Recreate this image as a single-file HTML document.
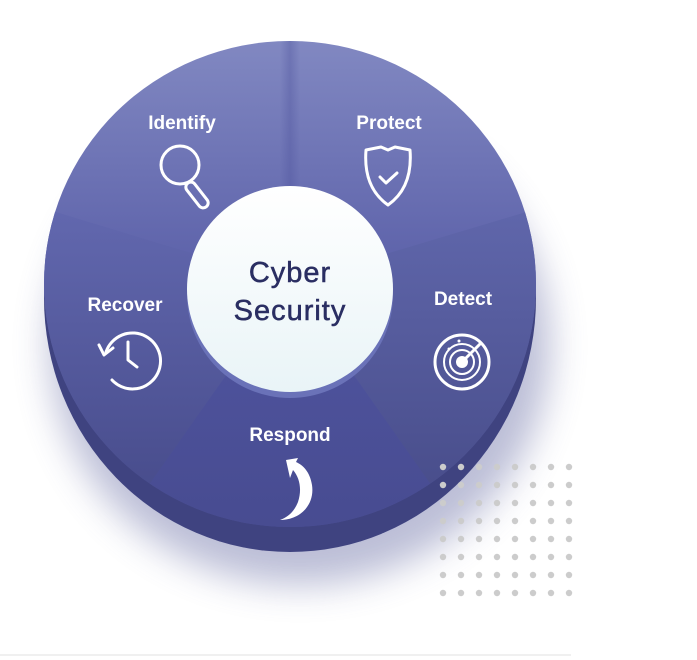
<!DOCTYPE html>
<html><head><meta charset="utf-8"><style>
html,body{margin:0;padding:0;background:#fff;}
svg{display:block;}
text{font-family:"Liberation Sans",Arial,sans-serif;}
</style></head><body>
<svg width="697" height="660" viewBox="0 0 697 660" xmlns="http://www.w3.org/2000/svg">
<defs>
<radialGradient id="sh" cx="50%" cy="50%" r="50%">
<stop offset="0.75" stop-color="#5a5f9a" stop-opacity="0.4"/>
<stop offset="1" stop-color="#5a5f9a" stop-opacity="0"/>
</radialGradient>
<linearGradient id="top" x1="0" y1="0" x2="0" y2="1">
<stop offset="0" stop-color="#8289c2"/>
<stop offset="0.5" stop-color="#5a5fa8"/>
<stop offset="1" stop-color="#4a4e94"/>
</linearGradient>
<linearGradient id="left" x1="0" y1="0" x2="0" y2="1">
<stop offset="0" stop-color="#6369b0"/>
<stop offset="1" stop-color="#3e427f"/>
</linearGradient>
<linearGradient id="right" x1="0" y1="0" x2="0" y2="1">
<stop offset="0" stop-color="#6168ad"/>
<stop offset="1" stop-color="#40447f"/>
</linearGradient>
<linearGradient id="bot" x1="0" y1="0" x2="0" y2="1">
<stop offset="0" stop-color="#5055a0"/>
<stop offset="1" stop-color="#474b90"/>
</linearGradient>
<linearGradient id="inner" x1="0" y1="0" x2="0" y2="1">
<stop offset="0" stop-color="#ffffff"/>
<stop offset="1" stop-color="#e9f4f7"/>
</linearGradient>
<linearGradient id="vline" x1="0" y1="0" x2="1" y2="0">
<stop offset="0" stop-color="#4d529c" stop-opacity="0"/>
<stop offset="0.5" stop-color="#4d529c" stop-opacity="0.35"/>
<stop offset="1" stop-color="#4d529c" stop-opacity="0"/>
</linearGradient>
<filter id="blur" x="-20%" y="-20%" width="140%" height="140%"><feGaussianBlur stdDeviation="18"/></filter>
<clipPath id="face"><ellipse cx="290" cy="284" rx="246" ry="243"/></clipPath>
</defs>
<!-- shadow -->
<ellipse cx="300" cy="345" rx="250" ry="240" fill="#6b6fa6" opacity="0.45" filter="url(#blur)"/>
<!-- disc side -->
<ellipse cx="290" cy="298" rx="246" ry="254" fill="#3f4380"/>
<!-- face segments -->
<g clip-path="url(#face)">
<rect x="40" y="36" width="500" height="500" fill="url(#top)"/>
<rect x="280" y="40" width="20" height="150" fill="url(#vline)"/>
<polygon points="290,290 191,253 0,195 0,600 100,600 222,381" fill="url(#left)"/>
<polygon points="290,290 389,253 600,190 600,600 480,600 358,381" fill="url(#right)"/>
<polygon points="290,290 222,381 110,540 470,540 358,381" fill="url(#bot)"/>
</g>
<!-- inner circle -->
<circle cx="290" cy="295" r="103" fill="#6a72b8"/>
<circle cx="290" cy="289" r="103" fill="url(#inner)"/>
<text x="290" y="282" font-size="29" fill="#2a2e62" stroke="#2a2e62" stroke-width="0.5" text-anchor="middle" letter-spacing="1">Cyber</text>
<text x="290" y="320" font-size="29" fill="#2a2e62" stroke="#2a2e62" stroke-width="0.5" text-anchor="middle" letter-spacing="1">Security</text>
<!-- labels -->
<g font-weight="bold" font-size="19" fill="#fff" text-anchor="middle">
<text x="182" y="129">Identify</text>
<text x="389" y="129">Protect</text>
<text x="463" y="305">Detect</text>
<text x="125" y="311">Recover</text>
<text x="290" y="441">Respond</text>
</g>
<!-- icons -->
<g fill="none" stroke="#fff" stroke-width="3" stroke-linecap="round" stroke-linejoin="round">
<circle cx="180" cy="165" r="19"/>
<rect x="192" y="180" width="10" height="30" rx="5" transform="rotate(-38 197 195)"/>
<path d="M366 150 L381 147 L388 150 L395 147 L410 150 C412 175 405 193 388 205 C371 193 364 175 366 150 Z"/>
<path d="M380 177 L386 183 L397 173"/>
<circle cx="462" cy="362" r="27"/>
<circle cx="462" cy="362" r="18" stroke-width="2"/>
<circle cx="462" cy="362" r="12" stroke-width="2"/>
<line x1="462" y1="362" x2="481" y2="343" stroke-width="3"/>
<path d="M106 352 A28 28 0 1 1 112 380"/>
<path d="M99 345 L104 355 L113 348"/>
<path d="M128 342 L128 360 L137 367"/>
</g>
<circle cx="462" cy="362" r="6" fill="#fff"/>
<circle cx="459" cy="341" r="1.5" fill="#fff"/>
<circle cx="449" cy="349" r="1.5" fill="#fff"/>
<path d="M280 520 C300 520 315 505 312 485 C310 472 303 465 296 462 L298 458 L286 460 L290 478 L293 470 C300 478 302 490 298 502 C294 512 288 517 280 520 Z" fill="#fff"/>
<!-- dots -->
<g fill="#cccccc">
<g id="row">
<circle cx="443" cy="467" r="3.2"/><circle cx="461" cy="467" r="3.2"/><circle cx="479" cy="467" r="3.2"/><circle cx="497" cy="467" r="3.2"/><circle cx="515" cy="467" r="3.2"/><circle cx="533" cy="467" r="3.2"/><circle cx="551" cy="467" r="3.2"/><circle cx="569" cy="467" r="3.2"/>
</g>
<use href="#row" y="18"/><use href="#row" y="36"/><use href="#row" y="54"/><use href="#row" y="72"/><use href="#row" y="90"/><use href="#row" y="108"/><use href="#row" y="126"/>
</g>
<line x1="0" y1="655" x2="571" y2="655" stroke="#e0e0e0" stroke-width="1"/>
</svg>
</body></html>
